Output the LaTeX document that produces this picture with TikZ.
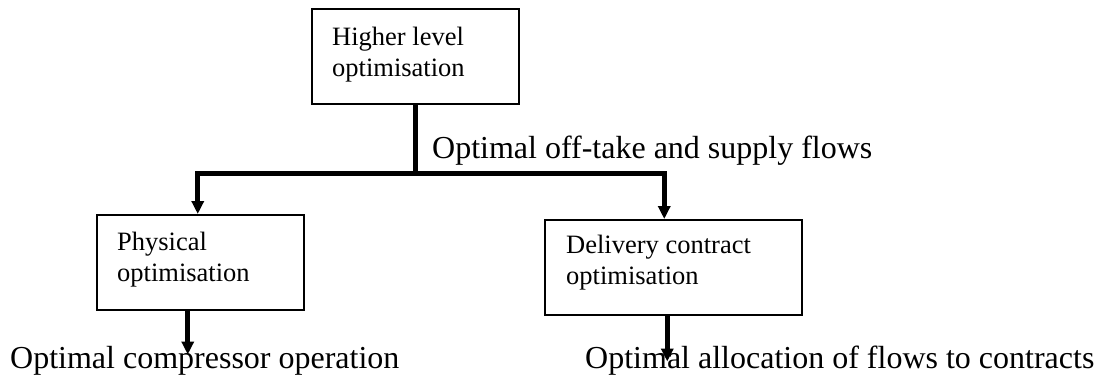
\documentclass[tikz,border=0pt]{standalone}
\usepackage{fontspec}
\setmainfont{Liberation Serif}
\usetikzlibrary{arrows.meta,calc}
\begin{document}
\begin{tikzpicture}[x=1pt,y=-1pt,
  box/.style={draw, line width=1.5pt, inner sep=0pt, anchor=north west, minimum height=95pt},
  boxtext/.style={inner sep=0pt, anchor=base west, align=left, font=\fontsize{26.5}{31}\selectfont},
  bigtext/.style={inner sep=0pt, anchor=base west, font=\fontsize{32}{38}\selectfont},
  conn/.style={line width=5pt},
  tip/.style={-{Triangle[length=13pt,width=12pt]}}]
\useasboundingbox (0,0) rectangle (1102,388);
% boxes
\node[box, minimum width=207pt] (top) at (311,8) {};
\node[box, minimum width=207pt] (left) at (96,214) {};
\node[box, minimum width=257pt] (right) at (544,219) {};
% box texts (base anchor = baseline of the last line)
\node[boxtext] (toptext) at ($(top.north west)+(21,68)$) {Higher level\\optimisation};
\node[boxtext] (lefttext) at ($(left.north west)+(21,67)$) {Physical\\optimisation};
\node[boxtext] (righttext) at ($(right.north west)+(22,65)$) {Delivery contract\\optimisation};
% labels
\node[bigtext] (mid) at (432,158) {Optimal off-take and supply flows};
\node[bigtext] (lout) at (10,368) {Optimal compressor operation};
\node[bigtext] (rout) at (585,368) {Optimal allocation of flows to contracts};
% connectors
\coordinate (split) at ($(top.south)+(0,69)$);
\coordinate (lin) at ($(left.north)+(-2.5,0)$);
\coordinate (rin) at ($(right.north)+(-9,0)$);
\draw[conn] (top.south) -- (split);
\draw[conn, {Triangle[length=13pt,width=12pt]}-{Triangle[length=13pt,width=12pt]}] (lin) |- (split) -| (rin);
\coordinate (lend) at ($(left.south)+(-12.5,44)$);
\coordinate (rend) at ($(right.south)+(-6,46)$);
\draw[conn, tip] ($(left.south)+(-12.5,0)$) -- (lend);
\draw[conn, tip] ($(right.south)+(-6,0)$) -- (rend);
\end{tikzpicture}
\end{document}
